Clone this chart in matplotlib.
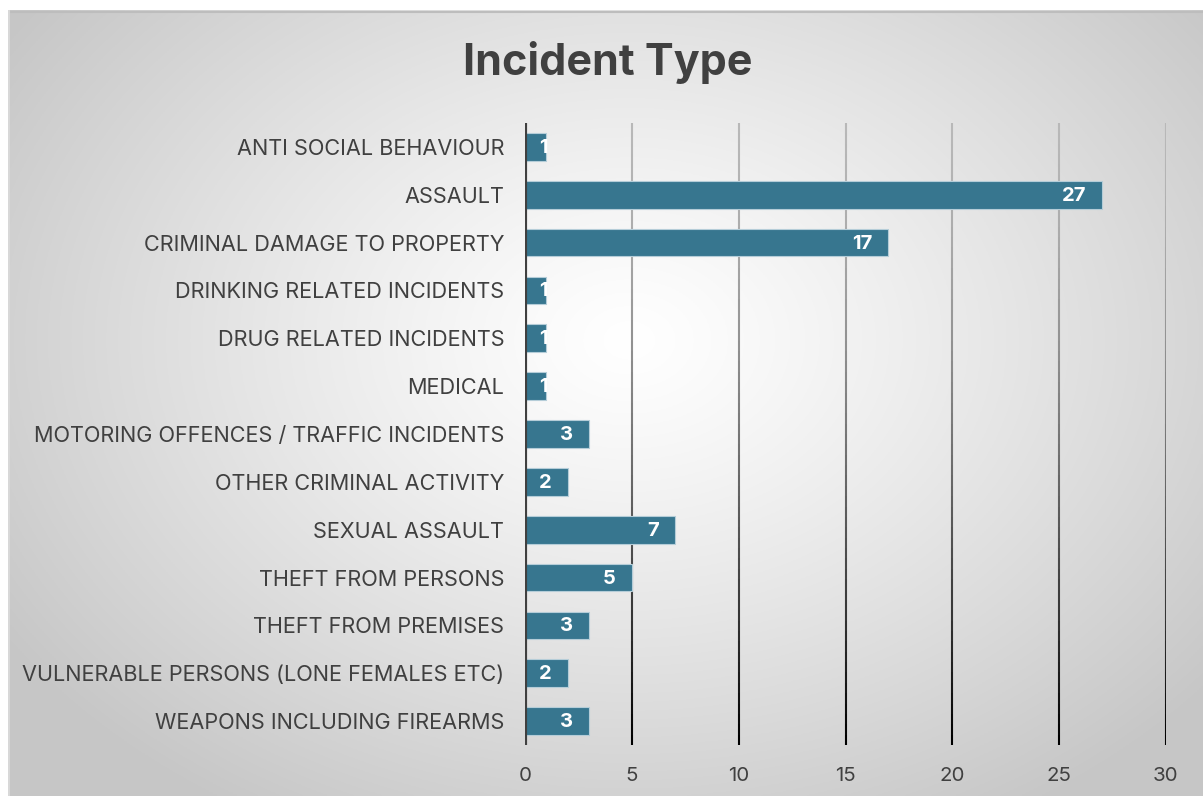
import numpy as np
import matplotlib.pyplot as plt
from matplotlib.collections import LineCollection

categories = ['ANTI SOCIAL BEHAVIOUR', 'ASSAULT', 'CRIMINAL DAMAGE TO PROPERTY',
              'DRINKING RELATED INCIDENTS', 'DRUG RELATED INCIDENTS', 'MEDICAL',
              'MOTORING OFFENCES / TRAFFIC INCIDENTS', 'OTHER CRIMINAL ACTIVITY',
              'SEXUAL ASSAULT', 'THEFT FROM PERSONS', 'THEFT FROM PREMISES',
              'VULNERABLE PERSONS (LONE FEMALES ETC)', 'WEAPONS INCLUDING FIREARMS']
counts = [1, 27, 17, 1, 1, 1, 3, 2, 7, 5, 3, 2, 3]
xticks = [0, 5, 10, 15, 20, 25, 30]

plt.rcParams['font.family'] = ['Inter', 'DejaVu Sans']
W, H = 1203, 796
fig = plt.figure(figsize=(W / 100, H / 100), dpi=100)
fig.patch.set_facecolor('white')

# radial gradient background
bg = fig.add_axes([8 / W, 0, 1 - 8 / W, 1 - 10 / H], zorder=-10)
yy, xx = np.mgrid[0:1:400j, 0:1:600j]
cx, cy = 0.52, 0.42
r = np.sqrt(((xx - cx) / 0.62) ** 2 + ((yy - cy) / 0.70) ** 2)
r = np.clip(r, 0, 1)
shade = 1.0 - 0.22 * r ** 1.2
bg.imshow(np.dstack([shade] * 3), aspect='auto', extent=[0, 1, 1, 0], origin='upper')
bg.set_xlim(0, 1)
bg.set_ylim(1, 0)
bg.axis('off')
bg.plot([0, 1], [0.002, 0.002], color='#bdbdbd', lw=1.5)
bg.plot([0.001, 0.001], [0, 1], color='#d8d8d8', lw=1.5)

ax = fig.add_axes([525 / W, 1 - 745 / H, (1166 - 525) / W, (745 - 123) / H])
ax.set_facecolor('none')
y = np.arange(len(categories))
ax.barh(y, counts, height=0.58, color='#37768f', edgecolor='#b5cdd8', linewidth=0.8, zorder=3)
ax.set_xlim(0, 30)
ax.set_ylim(len(categories) - 0.5, -0.5)

# gridlines fading from light gray at top to black at bottom
n = 60
ys = np.linspace(-0.5, len(categories) - 0.5, n + 1)
for xt in xticks[1:]:
    segs = [[(xt, ys[i]), (xt, ys[i + 1])] for i in range(n)]
    t = np.linspace(0, 1, n) ** 1.5
    cols = [(0.72 * (1 - s), 0.72 * (1 - s), 0.72 * (1 - s)) for s in t]
    ax.add_collection(LineCollection(segs, colors=cols, linewidths=1.5, zorder=1))
ax.axvline(0, color='#404040', lw=3, zorder=4)

ax.set_yticks(y)
ax.set_yticklabels(categories, fontsize=15.6, color='#404040')
ax.set_xticks(xticks)
ax.set_xticklabels([str(t) for t in xticks], fontsize=14.8, color='#404040')
ax.tick_params(length=0, axis='y', pad=15)
ax.tick_params(length=0, axis='x', pad=16)
for s in ax.spines.values():
    s.set_visible(False)

for i, v in enumerate(counts):
    off = -16 if v > 1 else 1
    ax.annotate(str(v), (v, i), xytext=(off, -1), textcoords='offset pixels',
                ha='right', va='center', color='white', fontsize=14.5,
                fontweight='bold', zorder=5)

fig.text(608 / W, 1 - 62 / H, 'Incident Type', ha='center', va='center',
         fontsize=31, fontweight='bold', color='#404040')

fig.savefig('out.png', dpi=100)
